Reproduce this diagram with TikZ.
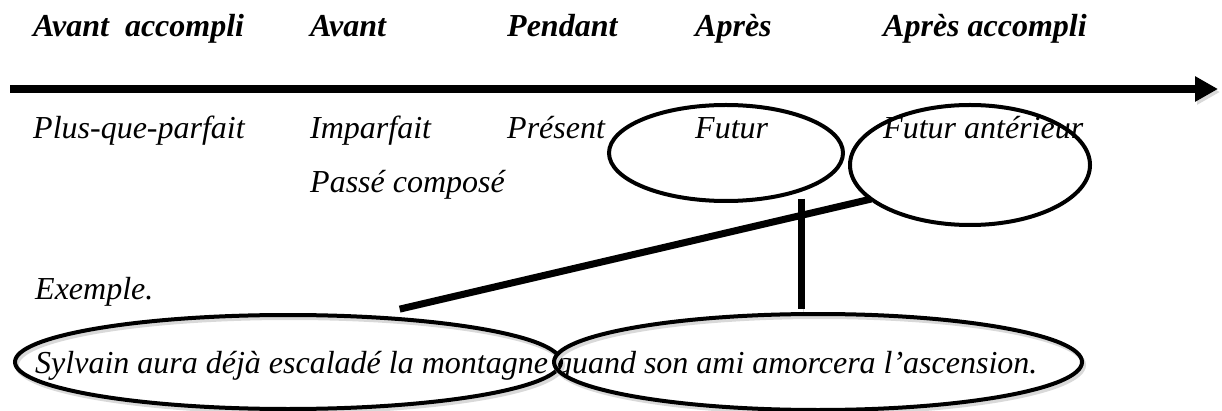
\documentclass[tikz,border=0pt]{standalone}
\usepackage{fontspec}
\setmainfont{Liberation Serif}
\usetikzlibrary{arrows.meta,shapes.geometric}
\newcommand\bigsz{\fontsize{32}{38}\selectfont}
\tikzset{
  lab/.style={anchor=base west,inner sep=0pt,font=\bigsz\itshape},
  head/.style={lab,font=\bigsz\bfseries\itshape},
  oval/.style={draw,ellipse,line width=4pt,inner sep=0pt,outer sep=0pt},
  shade/.style={preaction={draw=black!15,transform canvas={shift={(2pt,-3pt)}}}}
}
\begin{document}
\begin{tikzpicture}[x=1pt,y=-1pt,>={Triangle[length=23pt,width=24pt]}]
        \useasboundingbox (0,0) rectangle (1222,411);
        % axe du temps
        \draw[->,line width=8pt,shade](10,89)--(1218,89);
        \node[head] (avacc) at (33,37) {Avant\ \ accompli};
        \node[head] (avant) at (310,37) {Avant};
        \node[head] (pendant) at (507,37) {Pendant};
        \node[head] (apres) at (695,37) {Après};
        \node[head] (apacc) at (883,37) {Après accompli};
        % les temps
        \node[lab] (pqp) at (33,139) {Plus-que-parfait};
        \node[lab] (imparf) at (310,139) {Imparfait};
        \node[lab] (present) at (507,139) {Présent};
        \node[lab] (futur) at (695,139) {Futur};
        \node[lab] (futant) at (883,139) {Futur antérieur};
        \node[lab] (passe) at (310,193) {Passé composé};
        % exemple
        \node[lab] (ex) at (35,300) {Exemple.};
        \node[lab] (phrase) at (35,373) {Sylvain aura déjà escaladé la montagne quand son ami amorcera l’ascension.};
        \node[oval,minimum width=234pt,minimum height=96pt] (futE) at (726,153) {};
        \node[oval,minimum width=240pt,minimum height=120pt] (fantE) at (970,165) {};
        \node[oval,shade,minimum width=546pt,minimum height=94pt] (sylvE) at (288,362) {};
        \node[oval,shade,minimum width=528pt,minimum height=96pt] (ascE) at (818,362) {};
        \draw[line width=7pt,shade]([yshift=10pt]sylvE.21)--(fantE.199);
        \draw[line width=7pt,shade,shorten >=5pt]([yshift=-9pt]futE.334)--(futE.334|-ascE.north);
        \end{tikzpicture}
\end{document}
